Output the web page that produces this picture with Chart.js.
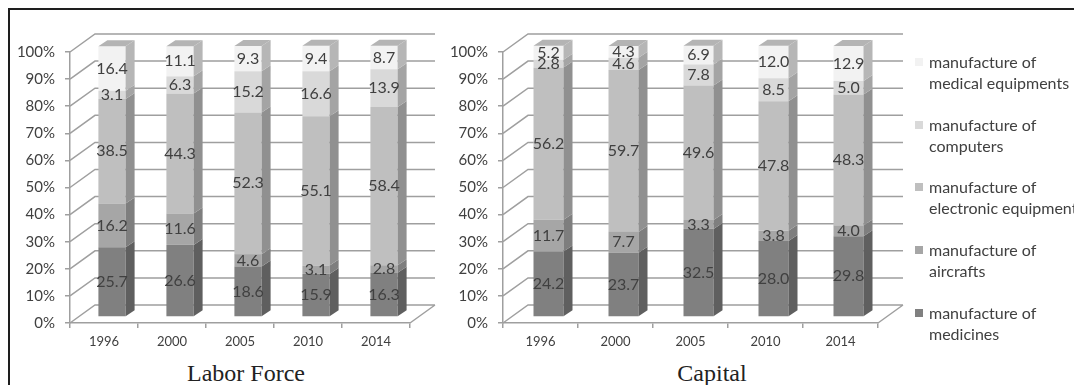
<!DOCTYPE html>
<html>
<head>
<meta charset="utf-8">
<script src="https://cdn.jsdelivr.net/npm/chart.js@4.4.1/dist/chart.umd.min.js"></script>
<style>
  body { margin: 0; width: 1074px; height: 385px; overflow: hidden; background: #fff; font-family: Lato, sans-serif; }
  #frame { position: absolute; left: 8px; top: 8px; width: 1100px; height: 400px; border-left: 2px solid #1e1e1e; border-top: 2px solid #1e1e1e; }
  canvas { position: absolute; top: 0; }
  #laborChart { left: 0; }
  #capitalChart { left: 440px; }
  .title { position: absolute; top: 361px; transform: translateX(-50%); white-space: nowrap;
           font-family: 'Liberation Serif', serif; font-size: 24px; line-height: 1; color: #222; }
  #legend { position: absolute; left: 913px; top: 51px; }
  .item { position: relative; height: 62.7px; padding-left: 16px; color: #404040; font-size: 16px; line-height: 21px; white-space: nowrap; }
  .item span { position: absolute; left: 2px; top: 7px; width: 8px; height: 8px; }
</style>
</head>
<body>
<div id="frame"></div>
<canvas id="laborChart" width="440" height="360"></canvas>
<canvas id="capitalChart" width="490" height="360"></canvas>
<div class="title" style="left:246px">Labor Force</div>
<div class="title" style="left:712px">Capital</div>
<div id="legend"></div>

<script>
const years = ['1996', '2000', '2005', '2010', '2014'];
const yTickLabels = ['0%', '10%', '20%', '30%', '40%', '50%', '60%', '70%', '80%', '90%', '100%'];

// bottom to top of each stack
const seriesNames = [
  ['manufacture of', 'medicines'],
  ['manufacture of', 'aircrafts'],
  ['manufacture of', 'electronic equipment'],
  ['manufacture of', 'computers'],
  ['manufacture of', 'medical equipments']
];

const laborMedicines  = [25.7, 26.6, 18.6, 15.9, 16.3];
const laborAircrafts  = [16.2, 11.6, 4.6, 3.1, 2.8];
const laborElectronic = [38.5, 44.3, 52.3, 55.1, 58.4];
const laborComputers  = [3.1, 6.3, 15.2, 16.6, 13.9];
const laborMedical    = [16.4, 11.1, 9.3, 9.4, 8.7];

const capitalMedicines  = [24.2, 23.7, 32.5, 28.0, 29.8];
const capitalAircrafts  = [11.7, 7.7, 3.3, 3.8, 4.0];
const capitalElectronic = [56.2, 59.7, 49.6, 47.8, 48.3];
const capitalComputers  = [2.8, 4.6, 7.8, 8.5, 5.0];
const capitalMedical    = [5.2, 4.3, 6.9, 12.0, 12.9];

const frontColors = ['#808080', '#a6a6a6', '#bfbfbf', '#d9d9d9', '#f2f2f2'];
const sideColors  = ['#5f5f5f', '#7e7e7e', '#909090', '#a4a4a4', '#b6b6b6'];
const topColor = '#b4b4b4';
const GRID = '#9f9f9f';
const TEXT = '#404040';

// floor / back wall depth and where the bars sit inside it
const DX = 25, DY = -18;
const SHIFT_X = 8, SHIFT_Y = -6;
const SIDE_X = 9, SIDE_Y = -6;

Chart.defaults.font.family = 'Lato, sans-serif';
Chart.defaults.color = TEXT;

const depthPlugin = {
  id: 'depth3d',
  beforeDatasetsDraw(chart) {
    const { ctx, scales: { x, y } } = chart;
    ctx.save();
    ctx.strokeStyle = GRID;
    ctx.lineWidth = 1.5;
    ctx.beginPath();
    y.ticks.forEach(t => {
      const py = y.getPixelForValue(t.value);
      ctx.moveTo(x.left, py);
      ctx.lineTo(x.left + DX, py + DY);
      ctx.lineTo(x.right + DX, py + DY);
    });
    const p0 = y.getPixelForValue(0);
    ctx.moveTo(x.right, p0);
    ctx.lineTo(x.right + DX, p0 + DY);
    ctx.stroke();
    ctx.restore();

    // bars are drawn a bit back into the floor
    ctx.save();
    ctx.translate(SHIFT_X, SHIFT_Y);
  },
  afterDatasetsDraw(chart) {
    const ctx = chart.ctx;
    const n = chart.data.datasets.length;
    const bars = [];
    chart.data.datasets.forEach((ds, i) => {
      chart.getDatasetMeta(i).data.forEach((el, j) => {
        const { x, y, base, width } = el.getProps(['x', 'y', 'base', 'width'], true);
        const l = x - width / 2, r = x + width / 2;
        const top = Math.min(y, base), bot = Math.max(y, base);
        bars.push({ x, top, bot, value: ds.data[j] });

        ctx.fillStyle = sideColors[i];
        ctx.beginPath();
        ctx.moveTo(r, top);
        ctx.lineTo(r + SIDE_X, top + SIDE_Y);
        ctx.lineTo(r + SIDE_X, bot + SIDE_Y);
        ctx.lineTo(r, bot);
        ctx.closePath();
        ctx.fill();

        if (i === n - 1) {
          ctx.fillStyle = topColor;
          ctx.beginPath();
          ctx.moveTo(l, top);
          ctx.lineTo(l + SIDE_X, top + SIDE_Y);
          ctx.lineTo(r + SIDE_X, top + SIDE_Y);
          ctx.lineTo(r, top);
          ctx.closePath();
          ctx.fill();
        }
      });
    });

    ctx.fillStyle = TEXT;
    ctx.font = '16px Lato, sans-serif';
    ctx.textAlign = 'center';
    ctx.textBaseline = 'middle';
    bars.forEach(b => {
      ctx.fillText(b.value.toFixed(1), b.x, (b.top + b.bot) / 2);
    });
    ctx.restore();
  }
};

function makeChart(id, series, axisWidth, padRight) {
  return new Chart(document.getElementById(id), {
    type: 'bar',
    data: {
      labels: years,
      datasets: series.map((d, i) => ({
        label: seriesNames[i].join(' '),
        data: d,
        backgroundColor: frontColors[i],
        borderWidth: 0,
        categoryPercentage: 1,
        barPercentage: 0.4,
        clip: false
      }))
    },
    options: {
      responsive: false,
      animation: false,
      devicePixelRatio: 1,
      layout: { padding: { top: 52, right: padRight, bottom: 0, left: 0 } },
      plugins: { legend: { display: false }, tooltip: { enabled: false } },
      scales: {
        x: {
          stacked: true,
          grid: { offset: true, drawOnChartArea: false, drawTicks: true, tickLength: 5, color: GRID, lineWidth: 1.5 },
          border: { color: GRID, width: 1.5 },
          ticks: { padding: 6, maxRotation: 0, font: { size: 13 } },
          afterFit: s => { s.height = 37; }
        },
        y: {
          stacked: true,
          min: 0,
          max: 100,
          grid: { drawOnChartArea: false, drawTicks: true, tickLength: 5, color: GRID, lineWidth: 1.5 },
          border: { color: GRID, width: 1.5 },
          ticks: { stepSize: 10, padding: 10, font: { size: 15 }, callback: (v, i) => yTickLabels[i] },
          afterFit: s => { s.width = axisWidth; }
        }
      }
    },
    plugins: [depthPlugin]
  });
}

makeChart('laborChart',
  [laborMedicines, laborAircrafts, laborElectronic, laborComputers, laborMedical], 70, 30);
makeChart('capitalChart',
  [capitalMedicines, capitalAircrafts, capitalElectronic, capitalComputers, capitalMedical], 63, 52);

// legend, top entry first
const legend = document.getElementById('legend');
for (let i = seriesNames.length - 1; i >= 0; i--) {
  const item = document.createElement('div');
  item.className = 'item';
  item.innerHTML = '<span style="background:' + frontColors[i] + '"></span>' + seriesNames[i].join('<br>');
  legend.appendChild(item);
}
</script>
</body>
</html>
